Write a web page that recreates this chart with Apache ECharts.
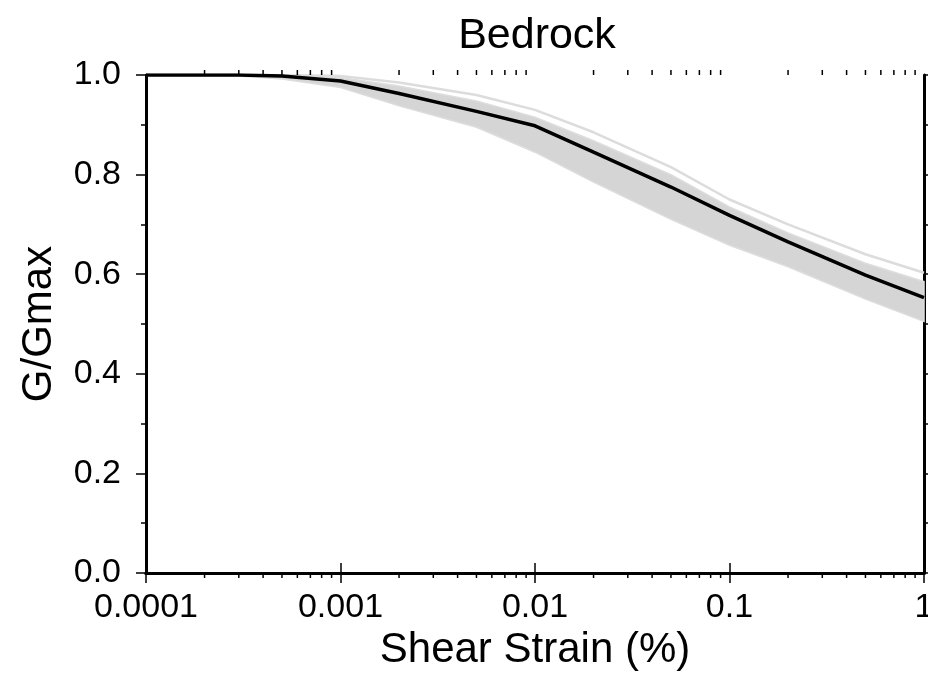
<!DOCTYPE html>
<html>
<head>
<meta charset="utf-8">
<script src="https://cdn.jsdelivr.net/npm/echarts@6/dist/echarts.min.js"></script>
<style>
  html, body { margin: 0; padding: 0; background: #fff; }
  #chart { width: 928px; height: 680px; }
</style>
</head>
<body>
<div id="chart"></div>
<script>
// shear strain (%) where the curves were read
const strain = [0.0001, 0.0003, 0.0005, 0.001, 0.002, 0.005, 0.01, 0.02, 0.05, 0.1, 0.2, 0.5, 1];
// mean G/Gmax curve (black)
const meanCurve = [1.0, 1.0, 0.998, 0.988, 0.963, 0.927, 0.898, 0.845, 0.775, 0.718, 0.665, 0.598, 0.553];
// grey band of the individual curves
const bandTop = [1.0, 1.0, 0.999, 0.995, 0.978, 0.948, 0.915, 0.868, 0.80, 0.735, 0.683, 0.622, 0.585];
const bandBottom = [1.0, 0.998, 0.992, 0.975, 0.938, 0.895, 0.845, 0.785, 0.71, 0.658, 0.615, 0.55, 0.505];
const outerCurve = [1.0, 1.0, 1.0, 0.998, 0.985, 0.96, 0.93, 0.885, 0.815, 0.75, 0.70, 0.64, 0.603];

const xTickLabels = ['0.0001', '0.001', '0.01', '0.1', '1'];
const yTickLabels = ['0.0', '0.2', '0.4', '0.6', '0.8', '1.0'];

// log minor ticks 2..9 in every decade
const minorX = [];
for (let e = -4; e < 0; e++) {
  for (let m = 2; m <= 9; m++) minorX.push(m * Math.pow(10, e));
}

const pairs = (ys) => strain.map((x, i) => [x, ys[i]]);
const font = 'Liberation Sans, Arial, sans-serif';

const chart = echarts.init(document.getElementById('chart'));

const xAxisBase = {
  type: 'log',
  logBase: 10,
  min: 0.0001,
  max: 1,
  axisLine: { lineStyle: { color: '#000', width: 3 } },
  axisTick: { inside: false, length: 10, lineStyle: { color: '#000', width: 1.5 } },
  splitLine: { show: false }
};
const yAxisBase = {
  type: 'value',
  min: 0,
  max: 1,
  interval: 0.2,
  axisLine: { show: true, lineStyle: { color: '#000', width: 3 } },
  axisTick: { show: true, inside: false, length: 10, lineStyle: { color: '#000', width: 1.5 } },
  minorTick: { show: true, splitNumber: 2, length: 5, lineStyle: { color: '#000', width: 1.5 } },
  splitLine: { show: false }
};

chart.setOption({
  animation: false,
  backgroundColor: '#fff',
  title: {
    text: 'Bedrock',
    left: 532,
    textAlign: 'center',
    top: 10,
    textStyle: { fontFamily: font, fontSize: 43, fontWeight: 'normal', color: '#000' }
  },
  grid: { left: 146, right: 4, top: 75, bottom: 107, outerBoundsMode: 'none' },
  xAxis: [
    Object.assign({}, xAxisBase, {
      position: 'bottom',
      name: 'Shear Strain (%)',
      nameLocation: 'middle',
      nameGap: 18,
      nameTextStyle: { fontFamily: font, fontSize: 42, color: '#000' },
      axisLabel: {
        margin: 18,
        fontFamily: font,
        fontSize: 34,
        color: '#000',
        formatter: (v) => xTickLabels[Math.round(Math.log10(v)) + 4]
      }
    }),
    Object.assign({}, xAxisBase, { position: 'top', axisLabel: { show: false } })
  ],
  yAxis: [
    Object.assign({}, yAxisBase, {
      position: 'left',
      name: 'G/Gmax',
      nameLocation: 'middle',
      nameGap: 86,
      nameTextStyle: { fontFamily: font, fontSize: 42, color: '#000' },
      axisLabel: {
        margin: 25,
        fontFamily: font,
        fontSize: 34,
        color: '#000',
        formatter: (v) => yTickLabels[Math.round(v * 5)]
      }
    }),
    Object.assign({}, yAxisBase, { position: 'right', axisLabel: { show: false } })
  ],
  series: [
    {
      type: 'custom',
      name: 'band',
      silent: true,
      z: 1,
      data: [0],
      renderItem: (params, api) => {
        const pts = [];
        strain.forEach((x, i) => pts.push(api.coord([x, bandTop[i]])));
        for (let i = strain.length - 1; i >= 0; i--) pts.push(api.coord([strain[i], bandBottom[i]]));
        return {
          type: 'polygon',
          shape: { points: pts },
          style: { fill: '#d5d5d5', stroke: '#dddddd', lineWidth: 1.5 }
        };
      }
    },
    {
      type: 'line',
      name: 'outer',
      data: pairs(outerCurve),
      symbol: 'none',
      silent: true,
      z: 2,
      lineStyle: { color: '#dcdcdc', width: 2.5 }
    },
    {
      type: 'line',
      name: 'mean',
      data: pairs(meanCurve),
      symbol: 'none',
      silent: true,
      z: 3,
      lineStyle: { color: '#000', width: 3.5 }
    },
    {
      type: 'custom',
      name: 'minorTicks',
      silent: true,
      z: 4,
      data: minorX,
      renderItem: (params, api) => {
        const v = api.value(0);
        const b = api.coord([v, 0]);
        const t = api.coord([v, 1]);
        const st = { stroke: '#000', lineWidth: 1.5 };
        return {
          type: 'group',
          children: [
            { type: 'line', shape: { x1: b[0], y1: b[1], x2: b[0], y2: b[1] + 5 }, style: st },
            { type: 'line', shape: { x1: t[0], y1: t[1], x2: t[0], y2: t[1] - 5 }, style: st }
          ]
        };
      }
    }
  ]
});
</script>
</body>
</html>
